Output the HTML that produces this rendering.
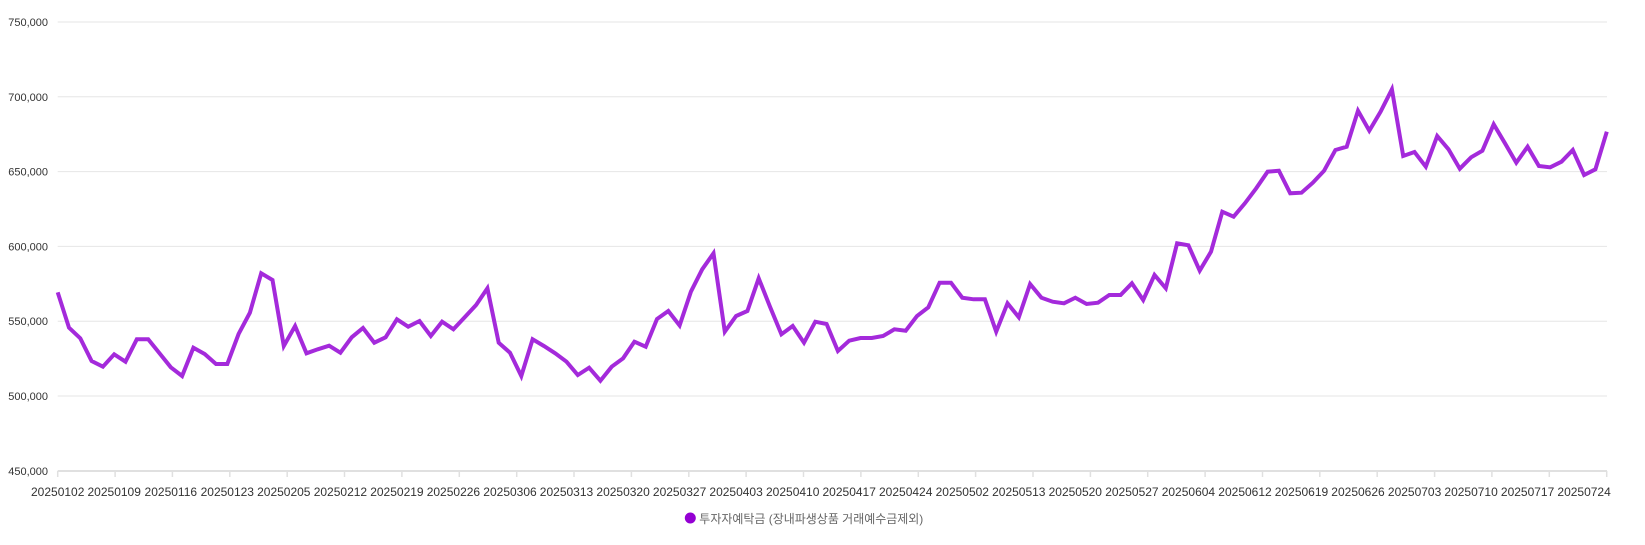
<!DOCTYPE html>
<html>
<head>
<meta charset="utf-8">
<style>
html,body{margin:0;padding:0;background:#fff;}
svg{display:block;}
</style>
</head>
<body>
<svg width="1645" height="545" viewBox="0 0 1645 545" xmlns="http://www.w3.org/2000/svg">
<rect width="1645" height="545" fill="#fff"/>
<g stroke="#e6e6e6" stroke-width="1">
<line x1="57.7" y1="22" x2="1607" y2="22"/>
<line x1="57.7" y1="96.8" x2="1607" y2="96.8"/>
<line x1="57.7" y1="171.6" x2="1607" y2="171.6"/>
<line x1="57.7" y1="246.4" x2="1607" y2="246.4"/>
<line x1="57.7" y1="321.2" x2="1607" y2="321.2"/>
<line x1="57.7" y1="396" x2="1607" y2="396"/>
</g>
<line x1="57.7" y1="471" x2="1607" y2="471" stroke="#e0e0e0" stroke-width="2"/>
<g stroke="#e0e0e0" stroke-width="1.5">
<line x1="57.7" y1="471" x2="57.7" y2="477"/><line x1="115.1" y1="471" x2="115.1" y2="477"/><line x1="172.4" y1="471" x2="172.4" y2="477"/><line x1="229.8" y1="471" x2="229.8" y2="477"/><line x1="287.2" y1="471" x2="287.2" y2="477"/><line x1="344.5" y1="471" x2="344.5" y2="477"/><line x1="401.9" y1="471" x2="401.9" y2="477"/><line x1="459.3" y1="471" x2="459.3" y2="477"/><line x1="516.7" y1="471" x2="516.7" y2="477"/><line x1="574.0" y1="471" x2="574.0" y2="477"/><line x1="631.4" y1="471" x2="631.4" y2="477"/><line x1="688.8" y1="471" x2="688.8" y2="477"/><line x1="746.1" y1="471" x2="746.1" y2="477"/><line x1="803.5" y1="471" x2="803.5" y2="477"/><line x1="860.9" y1="471" x2="860.9" y2="477"/><line x1="918.3" y1="471" x2="918.3" y2="477"/><line x1="975.6" y1="471" x2="975.6" y2="477"/><line x1="1033.0" y1="471" x2="1033.0" y2="477"/><line x1="1090.4" y1="471" x2="1090.4" y2="477"/><line x1="1147.7" y1="471" x2="1147.7" y2="477"/><line x1="1205.1" y1="471" x2="1205.1" y2="477"/><line x1="1262.5" y1="471" x2="1262.5" y2="477"/><line x1="1319.8" y1="471" x2="1319.8" y2="477"/><line x1="1377.2" y1="471" x2="1377.2" y2="477"/><line x1="1434.6" y1="471" x2="1434.6" y2="477"/><line x1="1491.9" y1="471" x2="1491.9" y2="477"/><line x1="1549.3" y1="471" x2="1549.3" y2="477"/><line x1="1606.7" y1="471" x2="1606.7" y2="477"/>
</g>
<g font-family="Liberation Sans, Arial, sans-serif" font-size="11" fill="#333" text-anchor="end">
<text x="48" y="26">750,000</text>
<text x="48" y="100.8">700,000</text>
<text x="48" y="175.6">650,000</text>
<text x="48" y="250.4">600,000</text>
<text x="48" y="325.2">550,000</text>
<text x="48" y="400">500,000</text>
<text x="48" y="474.8">450,000</text>
</g>
<g font-family="Liberation Sans, Arial, sans-serif" font-size="12" fill="#333" text-anchor="middle">
<text x="57.7" y="496">20250102</text><text x="114.2" y="496">20250109</text><text x="170.8" y="496">20250116</text><text x="227.3" y="496">20250123</text><text x="283.8" y="496">20250205</text><text x="340.4" y="496">20250212</text><text x="396.9" y="496">20250219</text><text x="453.4" y="496">20250226</text><text x="510.0" y="496">20250306</text><text x="566.5" y="496">20250313</text><text x="623.1" y="496">20250320</text><text x="679.6" y="496">20250327</text><text x="736.1" y="496">20250403</text><text x="792.7" y="496">20250410</text><text x="849.2" y="496">20250417</text><text x="905.7" y="496">20250424</text><text x="962.3" y="496">20250502</text><text x="1018.8" y="496">20250513</text><text x="1075.3" y="496">20250520</text><text x="1131.9" y="496">20250527</text><text x="1188.4" y="496">20250604</text><text x="1245.0" y="496">20250612</text><text x="1301.5" y="496">20250619</text><text x="1358.0" y="496">20250626</text><text x="1414.6" y="496">20250703</text><text x="1471.1" y="496">20250710</text><text x="1527.6" y="496">20250717</text><text x="1584.1" y="496">20250724</text>
</g>
<polyline fill="none" stroke="#a42adb" stroke-width="4" stroke-linejoin="miter" stroke-miterlimit="4" points="57.7,292.3 69.0,327.7 80.3,338.3 91.6,361 102.9,366.7 114.2,354.3 125.5,361.7 136.8,339.3 148.2,339.3 159.5,353.3 170.8,367.3 182.1,376 193.4,347.7 204.7,354 216.0,364 227.3,364 238.6,334 249.9,312.7 261.2,273.3 272.5,280 283.8,346 295.1,326 306.5,353.3 317.8,349.3 329.1,345.7 340.4,352.7 351.7,337.3 363.0,328 374.3,342.7 385.6,337.3 396.9,319.3 408.2,326.7 419.5,321 430.8,336 442.1,321.7 453.4,329.3 464.7,317.3 476.1,305 487.4,288.3 498.7,342.7 510.0,352.7 521.3,376 532.6,339.3 543.9,346 555.2,353.3 566.5,361.7 577.8,375 589.1,367.7 600.4,380.7 611.7,366.7 623.1,358.3 634.4,341.7 645.7,346.7 657.0,319 668.3,311 679.6,325.5 690.9,291.7 702.2,269.3 713.5,253.3 724.8,331.7 736.1,316 747.4,311 758.7,278.3 770.0,306.7 781.4,334.3 792.7,326 804.0,342.7 815.3,321.7 826.6,324 837.9,351 849.2,340.7 860.5,338 871.8,338 883.1,336 894.4,329.3 905.7,330.7 917.0,316 928.3,307.3 939.6,282.7 951.0,282.7 962.3,297.7 973.6,299.3 984.9,299.3 996.2,331.7 1007.5,303.3 1018.8,317.3 1030.1,284 1041.4,297.7 1052.7,301.7 1064.0,303.3 1075.3,297.7 1086.6,304 1098.0,302.7 1109.3,295 1120.6,295 1131.9,283.3 1143.2,300 1154.5,275 1165.8,288.3 1177.1,243.3 1188.4,245.3 1199.7,270.7 1211.0,251.7 1222.3,211.7 1233.6,216.7 1244.9,203.3 1256.2,188.3 1267.6,171.7 1278.9,170.7 1290.2,193.3 1301.5,192.7 1312.8,182.7 1324.1,170.7 1335.4,150 1346.7,146.7 1358.0,110.7 1369.3,130.7 1380.6,111.7 1391.9,89.3 1403.2,156 1414.5,152 1425.8,166.7 1437.2,136 1448.5,149.3 1459.8,168.7 1471.1,157.3 1482.4,150.7 1493.7,124.3 1505.0,143.3 1516.3,162.7 1527.6,146.7 1538.9,166 1550.2,167.3 1561.5,161.7 1572.8,150 1584.1,175 1595.4,169.3 1606.8,131.7"/>
<circle cx="690.3" cy="518" r="5.5" fill="#9400d3"/>
<text x="699.3" y="523" font-family="Liberation Sans, 'Noto Sans CJK KR', sans-serif" font-size="12" fill="#666" textLength="224" lengthAdjust="spacingAndGlyphs">투자자예탁금 (장내파생상품 거래예수금제외)</text>
</svg>
</body>
</html>
